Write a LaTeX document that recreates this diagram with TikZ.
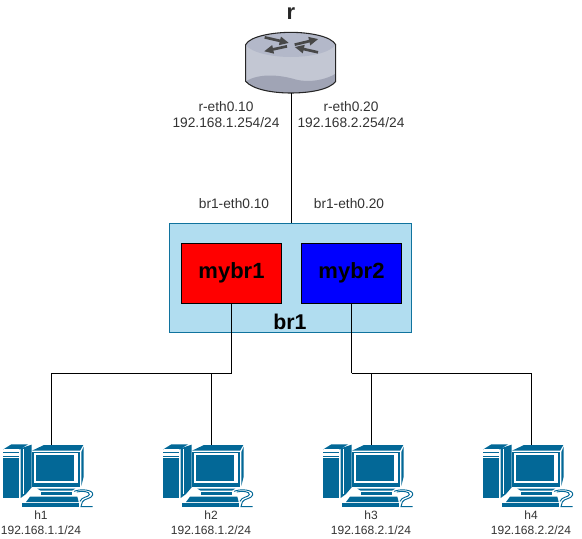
\documentclass[tikz,border=0pt]{standalone}
\usepackage{fontspec}
\setmainfont{Liberation Sans}
\usetikzlibrary{arrows.meta}

\definecolor{hostblue}{HTML}{036897}
\definecolor{brfill}{HTML}{B1DDF0}
\definecolor{brline}{HTML}{10739E}
\definecolor{rtside}{HTML}{C3C7D3}
\definecolor{rttop}{HTML}{B3B8C9}
\definecolor{rtlow}{HTML}{A0A4B5}
\definecolor{labelgrey}{HTML}{333333}

\tikzset{
    lbl/.style={font=\fontsize{10.3}{12}\selectfont, text=labelgrey, inner sep=0pt, align=center},
    hostlbl/.style={font=\fontsize{9}{11.25}\selectfont, text=labelgrey, inner sep=0pt, align=center},
    bridge/.style={draw=black, line width=0.6pt, minimum width=75.5pt, minimum height=45pt, inner sep=0pt,
        font=\fontsize{16.5}{18}\selectfont\bfseries, text=black},
    hostface/.style={fill=hostblue, draw=none},
    rtarrow/.style={black!72, line width=2pt, -{Triangle[length=7pt,width=6pt]}},
    pics/hosticon/.style={code={
        \begin{scope}[scale=1/3, shift={(-153,-45)}]
            \fill[hostface] (10,58) -- (34,43) -- (84,43) -- (60,58) -- cycle;
            \fill[white] (13,56) -- (56,56) -- (56,63) -- (13,63) -- cycle;
            \fill[white] (13,70) -- (56,70) -- (56,77) -- (13,77) -- cycle;
            \fill[hostface] (10,66) -- (57,66) -- (57,68) -- (10,68) -- cycle;
            \fill[hostface] (10,79) -- (57,79) -- (57,81) -- (10,81) -- cycle;
            \fill[hostface] (10,84) -- (57,84) -- (57,204) -- (10,204) -- cycle;
            \fill[hostface] (62,55) -- (95,44) -- (95,172) -- (78,192) -- (62,204) -- cycle;
            \draw[white, line width=1pt] (71,56) -- (71,192);
            \fill[hostface] (96,62) -- (132,45) -- (250,45) -- (240,62) -- cycle;
            \fill[hostface] (96,66) -- (240,66) -- (240,172) -- (96,172) -- cycle;
            \fill[white] (102,70) -- (234,70) -- (234,160) -- (102,160) -- cycle;
            \fill[hostface] (108,76) -- (222,76) -- (222,154) -- (108,154) -- cycle;
            \fill[hostface] (244,66) -- (251,50) -- (251,140) -- (244,168) -- cycle;
            \fill[hostface] (112,176) -- (226,176) -- (216,182) -- (122,182) -- cycle;
            \fill[hostface] (124,186) -- (216,186) -- (216,194) -- (124,194) -- cycle;
            \fill[hostface] (90,200) -- (232,200) -- (236,216) -- (78,216) -- cycle;
            \fill[hostface] (66,220) -- (236,220) -- (236,231) -- (66,231) -- cycle;
            \draw[hostblue, line width=0.7pt] (222,184) .. controls (240,176) and (282,178) .. (278,195)
                .. controls (275,207) and (252,205) .. (247,216) -- (243,230) -- (278,230);
            \draw[hostblue, line width=0.7pt] (230,186) .. controls (245,182) and (270,184) .. (268,194)
                .. controls (265,202) and (245,200) .. (240,214);
        \end{scope}
    }},
    pics/routericon/.style={code={
        \begin{scope}[scale=1/3, shift={(-184,-280)}]
            \fill[rtside] (48,135) -- (48,245) .. controls (70,270) and (130,280) .. (183,280)
                .. controls (240,280) and (300,270) .. (318,245) -- (318,135) -- cycle;
            \fill[rtlow] (48,245) .. controls (90,220) and (150,225) .. (200,240)
                .. controls (240,250) and (290,240) .. (318,222) -- (318,245)
                .. controls (300,270) and (240,280) .. (183,280)
                .. controls (130,280) and (70,270) .. (48,245) -- cycle;
            \fill[rttop] (48,135) .. controls (60,110) and (130,98) .. (183,98)
                .. controls (240,98) and (305,110) .. (318,135)
                .. controls (300,160) and (240,172) .. (183,172)
                .. controls (130,172) and (65,160) .. (48,135) -- cycle;
            \draw[black!85, line width=0.8pt] (48,135) .. controls (60,110) and (130,98) .. (183,98)
                .. controls (240,98) and (305,110) .. (318,135) -- (318,245)
                .. controls (300,270) and (240,280) .. (183,280)
                .. controls (130,280) and (70,270) .. (48,245) -- cycle;
            \draw[rtarrow] (105,113) -- (178,130);
            \draw[rtarrow] (195,135) -- (266,118);
            \draw[rtarrow] (172,140) -- (103,155);
            \draw[rtarrow] (265,158) -- (195,142);
        \end{scope}
    }},
}

\begin{document}
\begin{tikzpicture}[x=0.75pt, y=-0.75pt]

    \useasboundingbox (0,0) rectangle (582,539);

    \node[font=\fontsize{16.5}{18}\selectfont\bfseries, text=black!85, inner sep=0pt] (rname) at (291,13.5) {r};
    \coordinate (rport) at (291,93);
    \pic at (rport) {routericon};

    \node[lbl] (reth1) at (226,114.5) {r-eth0.10\\192.168.1.254/24};
    \node[lbl] (reth2) at (351,114.5) {r-eth0.20\\192.168.2.254/24};
    \node[lbl] (breth1) at (234,204) {br1-eth0.10};
    \node[lbl] (breth2) at (349,204) {br1-eth0.20};

    \node[draw=brline, fill=brfill, line width=0.6pt, minimum width=181.5pt, minimum height=82pt, inner sep=0pt] (br1) at (290.75,278.2) {};
    \node[font=\fontsize{16}{18}\selectfont\bfseries, text=black, inner sep=0pt] (br1name) at (290,322) {br1};

    \node[bridge, fill=red] (mybr1) at (231.5,273) {mybr1};
    \node[bridge, fill=blue] (mybr2) at (351.5,273) {mybr2};

    \draw (rport) -- (br1.north -| rport);

    \coordinate (bus1) at (mybr1.south |- 0,373);
    \coordinate (bus2) at (mybr2.south |- 0,373);

    \foreach \h/\hx/\lx/\ip in {h1/51/41/192.168.1.1,h2/211/211/192.168.1.2,h3/371/371/192.168.2.1,h4/531/531/192.168.2.2}{
        \coordinate (\h) at (\hx,445);
        \pic at (\h) {hosticon};
        \node[hostlbl] (\h lbl) at (\lx,522.5) {\h\\\ip/24};
    }

    \draw (mybr1.south) -- (bus1);
    \draw (mybr2.south) -- (bus2);
    \draw (bus1) -| (h1);
    \draw (bus1) -| (h2);
    \draw (bus2) -| (h3);
    \draw (bus2) -| (h4);

\end{tikzpicture}
\end{document}
